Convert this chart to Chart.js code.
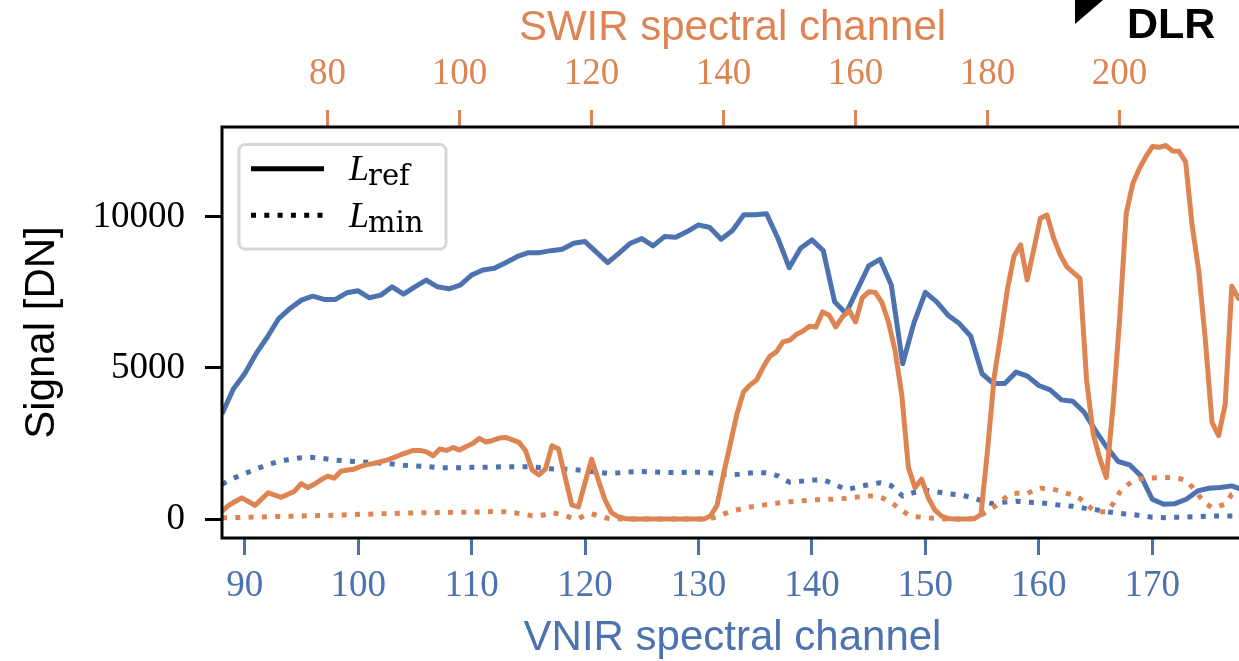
<!DOCTYPE html>
<html>
<head>
<meta charset="utf-8">
<script src="https://cdn.jsdelivr.net/npm/chart.js@4.4.1/dist/chart.umd.min.js"></script>
<style>
  html, body { margin: 0; padding: 0; overflow: hidden; background: #fff; width: 1239px; height: 661px; }
  #plot { position: absolute; left: 0; top: 0; }
  #logo-mark { position: absolute; left: 1075px; top: 0; width: 0; height: 0;
    border-top: 24px solid #000; border-right: 28px solid transparent; }
  #logo-text { position: absolute; left: 1127px; top: 2px; font: bold 43px/42px "Liberation Sans", Arial, sans-serif; color: #000; }
</style>
</head>
<body>
<canvas id="plot" width="1243" height="661"></canvas>
<div id="logo-mark"></div>
<div id="logo-text">DLR</div>
<script>
// First channel of each detector series (one value per channel after that)
const vnirStart = 88;
const swirStart = 64;

// VNIR reference signal L_ref, channels 88..179
const vnirRef = [
  3478, 4300, 4807, 5472, 6024, 6634, 6967, 7243, 7375, 7265,
  7265, 7486, 7552, 7320, 7409, 7684, 7442, 7684, 7907, 7684,
  7618, 7741, 8073, 8239, 8295, 8482, 8681, 8814, 8814, 8880,
  8926, 9126, 9180, 8830, 8482, 8800, 9126, 9280, 9037, 9346,
  9326, 9513, 9734, 9646, 9259, 9546, 10066, 10066, 10100, 9292,
  8316, 8960, 9236, 8880, 7187, 6800, 7590, 8372, 8594, 7741,
  5139, 6500, 7500, 7187, 6744, 6468, 6047, 4807, 4485, 4485,
  4861, 4728, 4419, 4275, 3943, 3897, 3532, 2924, 2369, 1904,
  1794, 1429, 654, 488, 508, 654, 930, 1020, 1040, 1096,
  960, 900
];

// VNIR minimum signal L_min, channels 88..179
const vnirMin = [
  1150, 1350, 1500, 1650, 1800, 1900, 1980, 2030, 2040, 2000,
  1950, 1920, 1900, 1880, 1850, 1820, 1780, 1760, 1740, 1700,
  1700, 1700, 1710, 1710, 1720, 1730, 1730, 1730, 1700, 1660,
  1650, 1640, 1600, 1550, 1510, 1530, 1560, 1570, 1560, 1540,
  1540, 1545, 1550, 1530, 1470, 1460, 1500, 1540, 1530, 1430,
  1220, 1250, 1290, 1300, 1150, 980, 1050, 1140, 1200, 1100,
  760, 880, 950, 900, 840, 800, 720, 600, 500, 560,
  590, 560, 540, 500, 450, 420, 360, 310, 240, 190,
  160, 110, 60, 45, 55, 65, 80, 95, 100, 100,
  100, 100
];

// SWIR reference signal L_ref, channels 64..219
const swirRef = [
  250, 450, 580, 700, 580, 450, 660, 870, 790, 720,
  820, 920, 1170, 1040, 1150, 1300, 1420, 1350, 1580, 1620,
  1650, 1740, 1800, 1840, 1900, 1950, 2030, 2120, 2200, 2270,
  2270, 2220, 2093, 2315, 2270, 2370, 2282, 2400, 2500, 2670,
  2550, 2600, 2680, 2700, 2620, 2535, 2259, 1618, 1462, 1651,
  2425, 2315, 1372, 465, 399, 1196, 1983, 1300, 650, 210,
  80, 20, 0, 0, 0, 0, 0, 0, 0, 0,
  0, 0, 0, 0, 100, 450, 1500, 2470, 3460, 4200,
  4430, 4600, 5030, 5380, 5530, 5860, 5914, 6103, 6213, 6379,
  6356, 6854, 6744, 6356, 6688, 6910, 6522, 7320, 7519, 7500,
  7160, 6500, 5550, 4100, 1700, 1040, 1318, 708, 300, 100,
  20, 0, 0, 0, 10, 150, 2300, 4700, 6100, 7600,
  8700, 9070, 7907, 8930, 9950, 10060, 9300, 8750, 8350, 8150,
  7963, 4600, 2814, 2000, 1372, 3700, 6600, 10100, 11100, 11600,
  12000, 12330, 12300, 12360, 12180, 12170, 11820, 9700, 8200, 5900,
  3200, 2760, 3800, 7700, 7300, 7600
];

// SWIR minimum signal L_min, channels 64..219
const swirMin = [
  40, 45, 50, 55, 60, 65, 70, 75, 80, 85,
  90, 95, 100, 105, 110, 115, 120, 125, 130, 140,
  150, 155, 160, 165, 170, 175, 180, 190, 195, 200,
  205, 210, 210, 215, 215, 220, 220, 225, 230, 235,
  240, 245, 245, 240, 220, 185, 150, 110, 100, 150,
  210, 170, 110, 30, 10, 130, 170, 110, 40, 10,
  5, 0, 0, 0, 0, 0, 0, 0, 0, 0,
  0, 0, 0, 0, 20, 70, 160, 250, 300, 350,
  400, 430, 460, 490, 520, 550, 570, 590, 605, 620,
  640, 650, 655, 660, 675, 700, 720, 740, 760, 760,
  700, 600, 450, 280, 140, 80, 60, 40, 20, 0,
  0, 0, 0, 0, 30, 130, 260, 400, 580, 760,
  850, 850, 840, 950, 1020, 1010, 980, 920, 850, 790,
  680, 480, 300, 240, 240, 500, 880, 1100, 1250, 1320,
  1350, 1360, 1370, 1370, 1370, 1340, 1280, 1060, 780, 520,
  380, 420, 500, 820, 920, 1000
];

// Tick values of the three axes
const vnirTicks = [90, 100, 110, 120, 130, 140, 150, 160, 170];
const swirTicks = [80, 100, 120, 140, 160, 180, 200];
const signalTicks = [0, 5000, 10000];

// Legend entries: italic L with a roman subscript
const legendEntries = [
  { main: 'L', sub: 'ref', dotted: false },
  { main: 'L', sub: 'min', dotted: true }
];

const BLUE = '#4c72b0';
const ORANGE = '#dd8452';
const DOTS = [5, 8.3];
const SERIF = '"Liberation Serif", "Times New Roman", serif';
const SANS = '"Liberation Sans", Arial, sans-serif';

function toPoints(start, values) {
  return values.map((v, i) => ({ x: start + i, y: v }));
}

function fixedTicks(list) {
  return scale => { scale.ticks = list.map(v => ({ value: v })); };
}

// black frame around the plotting area, drawn over the curves
const framePlugin = {
  id: 'frame',
  afterDatasetsDraw(chart) {
    const { ctx, chartArea: a } = chart;
    ctx.save();
    ctx.strokeStyle = '#000';
    ctx.lineWidth = 3;
    ctx.strokeRect(a.left, a.top, a.right - a.left, a.bottom - a.top);
    ctx.restore();
  }
};

// legend box with line samples and L_ref / L_min labels
const legendPlugin = {
  id: 'signalLegend',
  afterDraw(chart) {
    const { ctx, chartArea: a } = chart;
    ctx.save();
    ctx.beginPath();
    ctx.roundRect(a.left + 17, a.top + 17.5, 207, 104.5, 6);
    ctx.fillStyle = 'rgba(255,255,255,0.85)';
    ctx.fill();
    ctx.lineWidth = 3;
    ctx.strokeStyle = '#d6d6d6';
    ctx.stroke();
    legendEntries.forEach((e, i) => {
      const y = a.top + 41.7 + i * 46.6;
      ctx.beginPath();
      ctx.setLineDash(e.dotted ? DOTS : []);
      ctx.lineCap = 'butt';
      ctx.lineWidth = 5;
      ctx.strokeStyle = '#000';
      ctx.moveTo(a.left + 29, y);
      ctx.lineTo(a.left + 102, y);
      ctx.stroke();
      ctx.setLineDash([]);
      const tx = a.left + 127;
      const base = y + 11.6;
      ctx.fillStyle = '#000';
      ctx.textBaseline = 'alphabetic';
      ctx.textAlign = 'left';
      ctx.font = 'italic 36px "Liberation Serif", serif';
      ctx.fillText(e.main, tx, base);
      const w = ctx.measureText(e.main).width;
      ctx.font = '29px "DejaVu Serif", serif';
      ctx.fillText(e.sub, tx + w - 1, base + 5);
    });
    ctx.restore();
  }
};

const lineStyle = (color, dotted) => ({
  borderColor: color,
  borderWidth: 5,
  borderDash: dotted ? DOTS : [],
  borderCapStyle: 'butt',
  borderJoinStyle: 'round',
  pointRadius: 0,
  tension: 0,
  fill: false
});

const tickFont = { family: SERIF, size: 37, lineHeight: 1 };
const titleFont = { family: SANS, size: 42, lineHeight: 1 };

new Chart(document.getElementById('plot'), {
  type: 'line',
  data: {
    datasets: [
      Object.assign({ label: 'SWIR L_min', data: toPoints(swirStart, swirMin), xAxisID: 'xs', yAxisID: 'y' }, lineStyle(ORANGE, true)),
      Object.assign({ label: 'SWIR L_ref', data: toPoints(swirStart, swirRef), xAxisID: 'xs', yAxisID: 'y' }, lineStyle(ORANGE, false)),
      Object.assign({ label: 'VNIR L_min', data: toPoints(vnirStart, vnirMin), xAxisID: 'xv', yAxisID: 'y' }, lineStyle(BLUE, true)),
      Object.assign({ label: 'VNIR L_ref', data: toPoints(vnirStart, vnirRef), xAxisID: 'xv', yAxisID: 'y' }, lineStyle(BLUE, false))
    ]
  },
  options: {
    responsive: false,
    animation: false,
    events: [],
    layout: { padding: 0 },
    plugins: { legend: { display: false }, tooltip: { enabled: false } },
    scales: {
      xv: {
        type: 'linear', position: 'bottom', min: 88, max: 178,
        afterBuildTicks: fixedTicks(vnirTicks),
        afterFit: s => { s.height = 123; },
        border: { display: false },
        grid: { drawOnChartArea: false, drawTicks: true, tickLength: 17, tickWidth: 3, tickColor: BLUE },
        ticks: { color: BLUE, padding: 12.5, autoSkip: false, maxRotation: 0, minRotation: 0,
          font: tickFont, callback: v => String(v) },
        title: { display: true, text: 'VNIR spectral channel', color: BLUE,
          font: titleFont, padding: { top: 0, bottom: 1.5 } }
      },
      xs: {
        type: 'linear', position: 'top', min: 64, max: 64 + 1021 / 6.6,
        afterBuildTicks: fixedTicks(swirTicks),
        afterFit: s => { s.height = 127; },
        border: { display: false },
        grid: { drawOnChartArea: false, drawTicks: true, tickLength: 17, tickWidth: 3, tickColor: ORANGE },
        ticks: { color: ORANGE, padding: 17, autoSkip: false, maxRotation: 0, minRotation: 0,
          font: tickFont, callback: v => String(v) },
        title: { display: true, text: 'SWIR spectral channel', color: ORANGE,
          font: titleFont, padding: { top: 7.5, bottom: 0 } }
      },
      y: {
        type: 'linear', position: 'left', min: -628, max: 12972,
        afterBuildTicks: fixedTicks(signalTicks),
        afterFit: s => { s.width = 222; },
        border: { display: false },
        grid: { drawOnChartArea: false, drawTicks: true, tickLength: 17, tickWidth: 3, tickColor: '#000' },
        ticks: { color: '#000', padding: 20, autoSkip: false,
          font: tickFont, callback: v => String(v) },
        title: { display: true, text: 'Signal [DN]', color: '#000',
          font: titleFont, padding: { top: 21, bottom: 0 } }
      }
    }
  },
  plugins: [framePlugin, legendPlugin]
});
</script>
</body>
</html>
